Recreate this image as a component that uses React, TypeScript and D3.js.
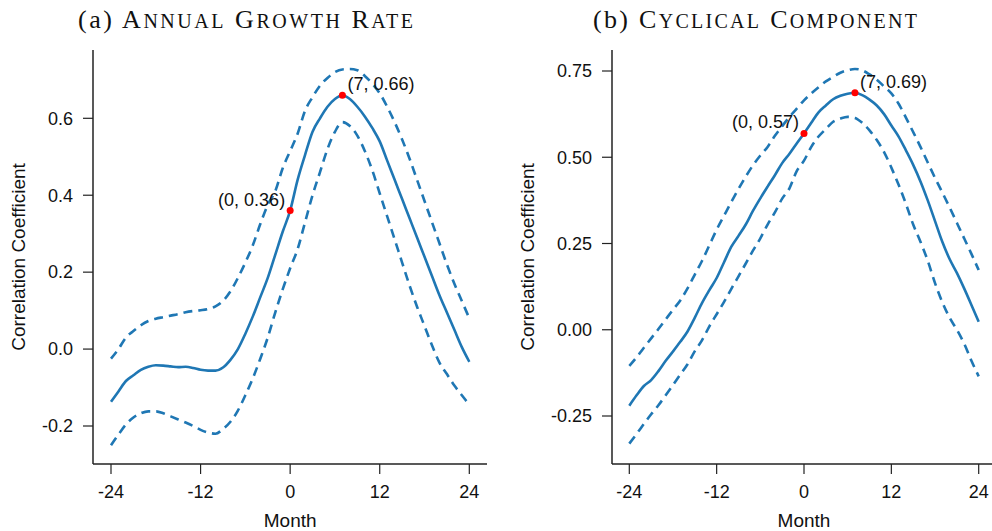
import { useEffect, useRef } from 'react'
import * as d3 from 'd3'

const months = d3.range(-24, 25)
const xTicks = [-24, -12, 0, 12, 24]

// (a) annual growth rate
const growthEst = [
  -0.137, -0.11, -0.083, -0.068, -0.054, -0.046, -0.042, -0.043, -0.045, -0.047, -0.046, -0.049,
  -0.054, -0.056, -0.056, -0.048, -0.028, 0.0, 0.04, 0.085, 0.135, 0.185, 0.245, 0.305,
  0.36, 0.44, 0.505, 0.565, 0.6, 0.63, 0.65, 0.66, 0.65, 0.63, 0.605, 0.575,
  0.54, 0.49, 0.44, 0.39, 0.34, 0.29, 0.24, 0.19, 0.14, 0.095, 0.05, 0.005, -0.033,
]
const growthUpper = [
  -0.025, 0.0, 0.03, 0.047, 0.062, 0.073, 0.079, 0.083, 0.087, 0.091, 0.096, 0.099,
  0.101, 0.104, 0.111, 0.125, 0.15, 0.185, 0.225, 0.27, 0.325, 0.375, 0.41, 0.47,
  0.515, 0.56, 0.62, 0.655, 0.685, 0.705, 0.72, 0.727, 0.728, 0.725, 0.71, 0.69,
  0.665, 0.63, 0.59, 0.545, 0.495, 0.44, 0.385, 0.33, 0.275, 0.22, 0.17, 0.125, 0.08,
]
const growthLower = [
  -0.25, -0.222, -0.196, -0.178, -0.167, -0.162, -0.162, -0.167, -0.175, -0.183, -0.191, -0.2,
  -0.21, -0.217, -0.22, -0.208, -0.189, -0.16, -0.12, -0.076, -0.025, 0.03, 0.095, 0.155,
  0.21, 0.26, 0.33, 0.4, 0.46, 0.52, 0.565, 0.59, 0.58, 0.555, 0.515, 0.465,
  0.405, 0.345, 0.285, 0.225, 0.165, 0.11, 0.06, 0.01, -0.035, -0.065, -0.095, -0.12, -0.145,
]
const growthYTicks = [-0.2, 0, 0.2, 0.4, 0.6]

// (b) cyclical component
const cycleEst = [
  -0.22, -0.19, -0.163, -0.146, -0.12, -0.09, -0.063, -0.035, -0.005, 0.035, 0.078, 0.115,
  0.15, 0.195, 0.24, 0.272, 0.305, 0.345, 0.381, 0.415, 0.448, 0.483, 0.51, 0.54,
  0.569, 0.6, 0.63, 0.65, 0.668, 0.678, 0.684, 0.687, 0.68, 0.667, 0.65, 0.625,
  0.592, 0.56, 0.52, 0.478, 0.43, 0.375, 0.315, 0.255, 0.205, 0.165, 0.12, 0.072, 0.023,
]
const cycleUpper = [
  -0.105, -0.08, -0.052, -0.025, 0.002, 0.03, 0.058, 0.085, 0.12, 0.16, 0.2, 0.245,
  0.29, 0.33, 0.37, 0.408, 0.444, 0.477, 0.505, 0.53, 0.562, 0.59, 0.617, 0.641,
  0.665, 0.685, 0.703, 0.72, 0.733, 0.745, 0.752, 0.756, 0.752, 0.74, 0.725, 0.705,
  0.685, 0.655, 0.615, 0.573, 0.53, 0.485, 0.44, 0.398, 0.355, 0.31, 0.265, 0.22, 0.173,
]
const cycleLower = [
  -0.33, -0.302, -0.273, -0.245, -0.219, -0.19, -0.16, -0.13, -0.1, -0.062, -0.03, 0.01,
  0.045, 0.08, 0.118, 0.155, 0.192, 0.23, 0.265, 0.305, 0.34, 0.38, 0.41, 0.46,
  0.49, 0.53, 0.56, 0.582, 0.603, 0.612, 0.617, 0.614, 0.6, 0.578, 0.55, 0.515,
  0.47, 0.42, 0.365, 0.305, 0.255, 0.2, 0.135, 0.08, 0.035, 0.0, -0.04, -0.09, -0.135,
]
const cycleYTicks = [-0.25, 0, 0.25, 0.5, 0.75]

const BLUE = '#1f77b4'
const SANS = '"Liberation Sans", Arial, Helvetica, sans-serif'
const SERIF = '"Liberation Serif", "DejaVu Serif", serif'

interface PanelSpec {
  tag: string
  title: string
  est: number[]
  upper: number[]
  lower: number[]
  yTicks: number[]
  yFmt: string
  marks: { m: number; label: string; side: 'left' | 'right' }[]
  // layout
  axisX: number
  xRange: [number, number]
  xAxisEnd: number
  yRange: [number, number]
  titleX: number
  titleW: number
  yLabelX: number
}

const panels: PanelSpec[] = [
  {
    tag: '(a)',
    title: 'Annual Growth Rate',
    est: growthEst,
    upper: growthUpper,
    lower: growthLower,
    yTicks: growthYTicks,
    yFmt: '.1f',
    marks: [
      { m: 0, label: '(0, 0.36)', side: 'left' },
      { m: 7, label: '(7, 0.66)', side: 'right' },
    ],
    axisX: 93,
    xRange: [111, 469.3],
    xAxisEnd: 487,
    yRange: [426, 118.3],
    titleX: 78,
    titleW: 335,
    yLabelX: 25,
  },
  {
    tag: '(b)',
    title: 'Cyclical Component',
    est: cycleEst,
    upper: cycleUpper,
    lower: cycleLower,
    yTicks: cycleYTicks,
    yFmt: '.2f',
    marks: [
      { m: 0, label: '(0, 0.57)', side: 'left' },
      { m: 7, label: '(7, 0.69)', side: 'right' },
    ],
    axisX: 612,
    xRange: [629.3, 978.7],
    xAxisEnd: 997,
    yRange: [416, 71],
    titleX: 593,
    titleW: 324,
    yLabelX: 534,
  },
]

const AXIS_TOP = 50
const AXIS_BOTTOM = 464

export default function App() {
  const svgRef = useRef<SVGSVGElement>(null)

  useEffect(() => {
    if (!svgRef.current) return
    const svg = d3.select(svgRef.current)
    svg.selectAll('*').remove()

    panels.forEach(p => {
      const x = d3.scaleLinear().domain([-24, 24]).range(p.xRange)
      const yDomain: [number, number] = [p.yTicks[0], p.yTicks[p.yTicks.length - 1]]
      const y = d3.scaleLinear().domain(yDomain).range(p.yRange)
      const fmt = d3.format(p.yFmt)
      const g = svg.append('g')

      // title, small caps built by hand
      const title = g.append('text')
        .attr('x', p.titleX)
        .attr('y', 28)
        .attr('font-family', SERIF)
        .attr('fill', '#111')
        .attr('textLength', p.titleW)
        .attr('lengthAdjust', 'spacing')
      title.append('tspan').attr('font-size', '26px').text(p.tag + ' ')
      p.title.split(' ').forEach((word, i) => {
        title.append('tspan').attr('font-size', '26px').text((i > 0 ? ' ' : '') + word[0])
        title.append('tspan').attr('font-size', '20px').text(word.slice(1).toUpperCase())
      })

      // axes
      g.append('line')
        .attr('x1', p.axisX).attr('x2', p.axisX)
        .attr('y1', AXIS_TOP).attr('y2', AXIS_BOTTOM)
        .attr('stroke', '#222').attr('stroke-width', 1.5)
      g.append('line')
        .attr('x1', p.axisX).attr('x2', p.xAxisEnd)
        .attr('y1', AXIS_BOTTOM).attr('y2', AXIS_BOTTOM)
        .attr('stroke', '#222').attr('stroke-width', 1.5)

      // y ticks
      const yt = g.append('g').selectAll('g').data(p.yTicks).enter().append('g')
      yt.append('line')
        .attr('x1', p.axisX - 10).attr('x2', p.axisX)
        .attr('y1', d => y(d)).attr('y2', d => y(d))
        .attr('stroke', '#222').attr('stroke-width', 1.2)
      yt.append('text')
        .attr('x', p.axisX - 20)
        .attr('y', d => y(d))
        .attr('dy', '0.35em')
        .attr('text-anchor', 'end')
        .attr('font-family', SANS)
        .attr('font-size', '18px')
        .attr('fill', '#111')
        .text(d => fmt(d).replace('−', '-'))

      // x ticks
      const xt = g.append('g').selectAll('g').data(xTicks).enter().append('g')
      xt.append('line')
        .attr('x1', d => x(d)).attr('x2', d => x(d))
        .attr('y1', AXIS_BOTTOM).attr('y2', AXIS_BOTTOM + 10)
        .attr('stroke', '#222').attr('stroke-width', 1.2)
      xt.append('text')
        .attr('x', d => x(d))
        .attr('y', 498)
        .attr('text-anchor', 'middle')
        .attr('font-family', SANS)
        .attr('font-size', '18px')
        .attr('fill', '#111')
        .text(d => String(d))

      // axis labels
      g.append('text')
        .attr('x', x(0))
        .attr('y', 527)
        .attr('text-anchor', 'middle')
        .attr('font-family', SANS)
        .attr('font-size', '19px')
        .attr('fill', '#111')
        .text('Month')
      const midY = (AXIS_TOP + AXIS_BOTTOM) / 2
      g.append('text')
        .attr('transform', `translate(${p.yLabelX},${midY}) rotate(-90)`)
        .attr('text-anchor', 'middle')
        .attr('font-family', SANS)
        .attr('font-size', '19px')
        .attr('fill', '#111')
        .text('Correlation Coefficient')

      // lines
      const line = d3.line<number>()
        .x((_, i) => x(months[i]))
        .y(d => y(d))
        .curve(d3.curveMonotoneX)

      ;[p.upper, p.lower].forEach(band => {
        g.append('path')
          .attr('d', line(band))
          .attr('fill', 'none')
          .attr('stroke', BLUE)
          .attr('stroke-width', 2.6)
          .attr('stroke-dasharray', '9,6')
      })
      g.append('path')
        .attr('d', line(p.est))
        .attr('fill', 'none')
        .attr('stroke', BLUE)
        .attr('stroke-width', 2.6)

      // highlighted points
      p.marks.forEach(mk => {
        const v = p.est[months.indexOf(mk.m)]
        const cx = x(mk.m)
        const cy = y(v)
        g.append('circle').attr('cx', cx).attr('cy', cy).attr('r', 3.5).attr('fill', '#ff0000')
        g.append('text')
          .attr('x', mk.side === 'right' ? cx + 5 : cx - 5)
          .attr('y', cy - 5)
          .attr('text-anchor', mk.side === 'right' ? 'start' : 'end')
          .attr('font-family', SANS)
          .attr('font-size', '18px')
          .attr('fill', '#111')
          .text(mk.label)
      })
    })
  }, [])

  return (
    <div style={{ position: 'absolute', left: 0, top: 0 }}>
      <svg ref={svgRef} width={992} height={531} style={{ display: 'block', background: '#fff' }} />
    </div>
  )
}
